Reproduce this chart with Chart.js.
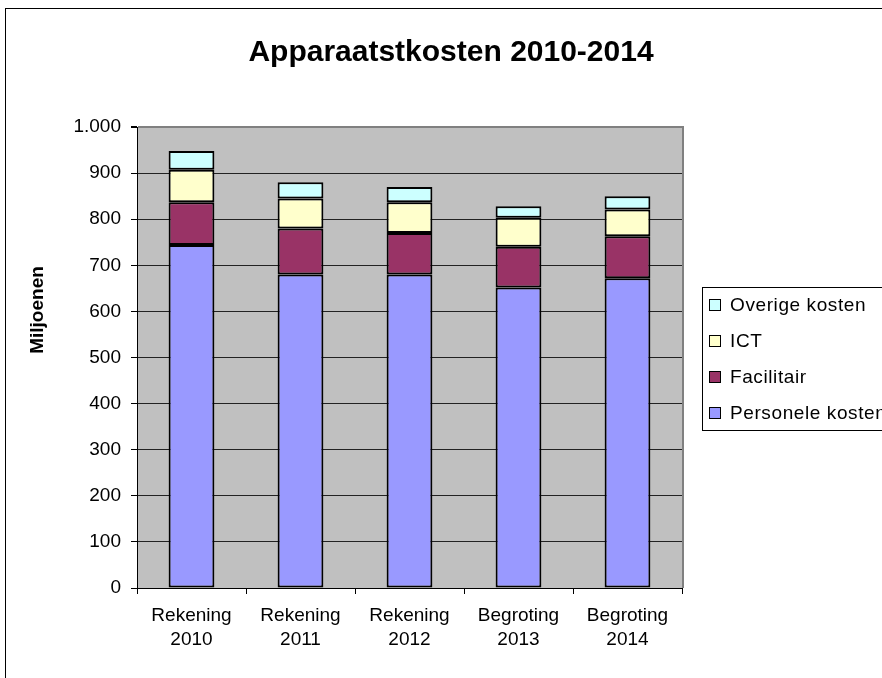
<!DOCTYPE html>
<html>
<head>
<meta charset="utf-8">
<script src="https://cdn.jsdelivr.net/npm/chart.js@4/dist/chart.umd.min.js"></script>
<style>
  html, body { margin: 0; padding: 0; background: #fff; overflow: hidden; }
  #wrap { position: absolute; left: 0; top: 0; width: 882px; height: 678px; }
</style>
</head>
<body>
<div id="wrap"><canvas id="kostenChart" width="882" height="678"></canvas></div>
<script>
// data (miljoenen)
const categories = [['Rekening', '2010'], ['Rekening', '2011'], ['Rekening', '2012'], ['Begroting', '2013'], ['Begroting', '2014']];
const personele = [744, 680, 680, 652, 672];
const facilitair = [93, 100, 90, 88, 91];
const ict = [70, 65, 67, 63, 58];
const overige = [41, 35, 33, 25, 29];
const yTickLabels = ['0', '100', '200', '300', '400', '500', '600', '700', '800', '900', '1.000'];

const FONT = "'Liberation Sans', Arial, sans-serif";

// -----------------------------
// frame, plot background, title, y title, legend
// -----------------------------
const decor = {
    id: 'decor',
    beforeDraw(chart) {
        const c = chart.ctx, a = chart.chartArea;
        c.save();
        c.fillStyle = '#fff';
        c.fillRect(0, 0, chart.width, chart.height);
        c.strokeStyle = '#000';
        c.lineWidth = 1;
        c.strokeRect(5.5, 8.5, 2000, 2000);
        c.fillStyle = '#c0c0c0';
        c.fillRect(a.left, a.top, a.right - a.left, a.bottom - a.top);
        c.restore();
    },
    afterDatasetsDraw(chart) {
        const c = chart.ctx, a = chart.chartArea;
        c.save();
        c.strokeStyle = '#808080';
        c.lineWidth = 2;
        c.beginPath();
        c.moveTo(a.right + 1, a.top - 1);
        c.lineTo(a.right + 1, a.bottom);
        c.stroke();
        c.restore();
    },
    afterDraw(chart) {
        const c = chart.ctx, a = chart.chartArea;
        c.save();
        // title
        c.fillStyle = '#000';
        c.font = 'bold 30px ' + FONT;
        c.textAlign = 'center';
        c.textBaseline = 'alphabetic';
        c.fillText('Apparaatstkosten 2010-2014', 451, 61);
        // y axis title
        c.save();
        c.translate(43, 310);
        c.rotate(-Math.PI / 2);
        c.font = 'bold 19px ' + FONT;
        c.textBaseline = 'alphabetic';
        c.fillText('Miljoenen', 0, 0);
        c.restore();
        // legend (reverse order, like the stack)
        const lx = a.right + 20;
        const mid = (a.top + a.bottom) / 2;
        const ltop = Math.round(mid - 71);
        c.strokeStyle = '#000';
        c.lineWidth = 1;
        c.strokeRect(lx + 0.5, ltop + 0.5, 400, 143);
        const sets = chart.data.datasets.slice().reverse();
        c.font = '19px ' + FONT;
        c.letterSpacing = '0.6px';
        c.textAlign = 'left';
        c.textBaseline = 'middle';
        sets.forEach((ds, i) => {
            const y = ltop + 18 + i * 36;
            c.fillStyle = ds.backgroundColor;
            c.fillRect(lx + 7.5, y - 5.5, 11, 11);
            c.strokeRect(lx + 7.5, y - 5.5, 11, 11);
            c.fillStyle = '#000';
            c.fillText(ds.label, lx + 28, y + 1);
        });
        c.restore();
    }
};

const ctx = document.getElementById('kostenChart').getContext('2d');
new Chart(ctx, {
    type: 'bar',
    data: {
        labels: categories,
        datasets: [
            { label: 'Personele kosten', data: personele, backgroundColor: '#9999ff' },
            { label: 'Facilitair', data: facilitair, backgroundColor: '#993366' },
            { label: 'ICT', data: ict, backgroundColor: '#ffffcc' },
            { label: 'Overige kosten', data: overige, backgroundColor: '#ccffff' }
        ].map(d => Object.assign(d, {
            borderColor: '#000',
            borderWidth: 2,
            borderSkipped: false,
            barPercentage: 0.42,
            categoryPercentage: 1
        }))
    },
    options: {
        responsive: false,
        animation: false,
        devicePixelRatio: 1,
        layout: { padding: { left: 0, top: 127, right: 200, bottom: 0 } },
        plugins: {
            legend: { display: false },
            title: { display: false },
            tooltip: { enabled: false }
        },
        scales: {
            x: {
                stacked: true,
                afterFit: s => { s.height = 90; },
                grid: { drawOnChartArea: false, drawTicks: true, tickLength: 6, tickColor: '#000', color: '#000' },
                border: { color: '#000', width: 1 },
                ticks: { color: '#000', font: { family: FONT, size: 19, lineHeight: 1.25 }, padding: 10, maxRotation: 0 }
            },
            y: {
                stacked: true,
                min: 0,
                max: 1000,
                afterFit: s => { s.width = 137; },
                grid: {
                    color: c => (c.tick && c.tick.value === 1000 ? '#808080' : '#222'),
                    lineWidth: c => (c.tick && c.tick.value === 1000 ? 2 : 1),
                    drawTicks: true,
                    tickLength: 6,
                    tickColor: '#000'
                },
                border: { color: '#000', width: 1 },
                ticks: {
                    stepSize: 100,
                    color: '#000',
                    padding: 10,
                    font: { family: FONT, size: 19 },
                    callback: (v, i) => yTickLabels[i]
                }
            }
        }
    },
    plugins: [decor]
});
</script>
</body>
</html>
